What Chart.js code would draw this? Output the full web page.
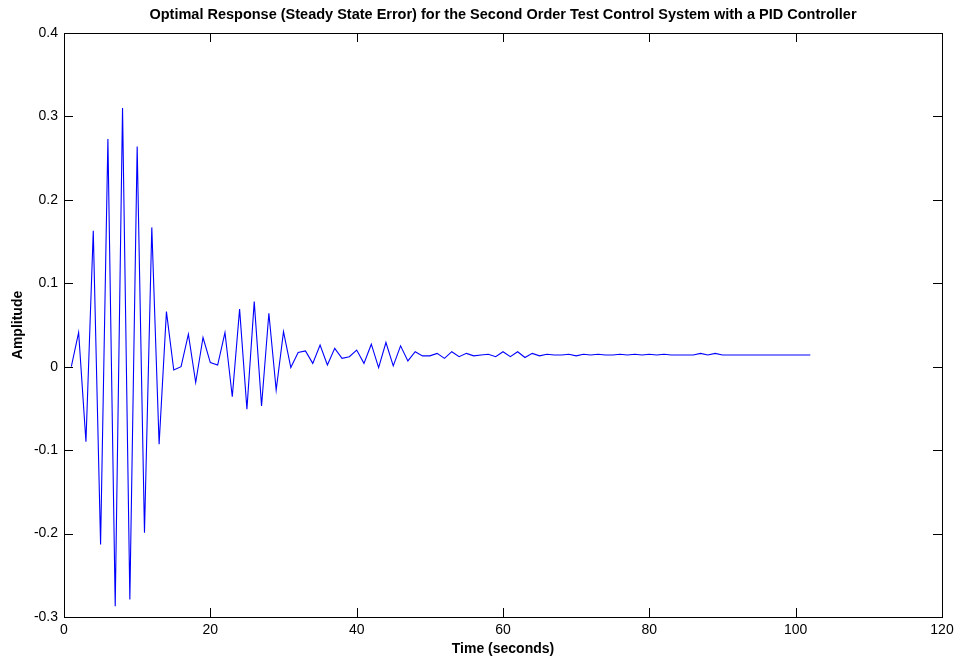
<!DOCTYPE html>
<html>
<head>
<meta charset="utf-8">
<script src="https://cdn.jsdelivr.net/npm/chart.js@4.4.0/dist/chart.umd.min.js"></script>
<style>
  html, body { margin: 0; padding: 0; background: #fff; }
  #wrap { width: 960px; height: 662px; }
</style>
</head>
<body>
<div id="wrap"><canvas id="errChart" width="960" height="662"></canvas></div>
<script>
// Zeitachse (Sekunden) und Fehlerverlauf
const timeSec = [];
for (let t = 1; t <= 102; t++) timeSec.push(t);

const errValues = [
  0.000, 0.041, -0.090, 0.163, -0.213, 0.273, -0.287, 0.310, -0.279, 0.264,
  -0.199, 0.167, -0.093, 0.066, -0.004, 0.000, 0.039, -0.019, 0.035, 0.005,
  0.002, 0.041, -0.036, 0.069, -0.051, 0.078, -0.047, 0.064, -0.028, 0.042,
  -0.001, 0.017, 0.019, 0.004, 0.026, 0.002, 0.022, 0.010, 0.012, 0.020,
  0.004, 0.027, -0.001, 0.029, 0.001, 0.025, 0.007, 0.018, 0.013, 0.013,
  0.016, 0.010, 0.018, 0.012, 0.016, 0.013, 0.014, 0.015, 0.012, 0.018,
  0.012, 0.018, 0.011, 0.016, 0.013, 0.015, 0.014, 0.014, 0.015, 0.013,
  0.015, 0.014, 0.015, 0.014, 0.014, 0.015, 0.014, 0.015, 0.014, 0.015,
  0.014, 0.015, 0.014, 0.014, 0.014, 0.014, 0.016, 0.014, 0.016, 0.014,
  0.014, 0.014, 0.014, 0.014, 0.014, 0.014, 0.014, 0.014, 0.014, 0.014,
  0.014, 0.014
];

const xTicks = [0, 20, 40, 60, 80, 100, 120];
const yTicks = [-0.3, -0.2, -0.1, 0, 0.1, 0.2, 0.3, 0.4];

const FONT = '"Liberation Sans", Arial, Helvetica, sans-serif';

// Rahmen und nach innen zeigende Ticks wie bei MATLAB
const boxTicks = {
  id: 'boxTicks',
  afterDraw(chart) {
    const { ctx, chartArea: a, scales } = chart;
    const len = 9;
    ctx.save();
    ctx.strokeStyle = '#000';
    ctx.lineWidth = 1;
    ctx.beginPath();
    xTicks.forEach(v => {
      const x = Math.round(scales.x.getPixelForValue(v)) + 0.5;
      ctx.moveTo(x, a.bottom); ctx.lineTo(x, a.bottom - len);
      ctx.moveTo(x, a.top); ctx.lineTo(x, a.top + len);
    });
    yTicks.forEach(v => {
      const y = Math.round(scales.y.getPixelForValue(v)) + 0.5;
      ctx.moveTo(a.left, y); ctx.lineTo(a.left + len, y);
      ctx.moveTo(a.right, y); ctx.lineTo(a.right - len, y);
    });
    ctx.stroke();
    ctx.strokeRect(Math.round(a.left) + 0.5, Math.round(a.top) + 0.5,
      Math.round(a.right - a.left), Math.round(a.bottom - a.top));
    ctx.restore();
  }
};

const ctx = document.getElementById('errChart').getContext('2d');
new Chart(ctx, {
  type: 'line',
  data: {
    datasets: [{
      data: timeSec.map((t, i) => ({ x: t, y: errValues[i] })),
      borderColor: '#0000ff',
      borderWidth: 1.1,
      pointRadius: 0,
      tension: 0,
      fill: false
    }]
  },
  options: {
    responsive: false,
    animation: false,
    layout: { padding: { right: 18, top: 0, left: 0, bottom: 0 } },
    plugins: {
      legend: { display: false },
      tooltip: { enabled: false },
      title: {
        display: true,
        fullSize: false,
        text: 'Optimal Response (Steady State Error) for the Second Order Test Control System with a PID Controller',
        color: '#000',
        font: { family: FONT, size: 14.5, weight: 'bold' },
        padding: { top: 6.3, bottom: 9.3 }
      }
    },
    scales: {
      x: {
        type: 'linear',
        min: 0,
        max: 120,
        afterFit: s => { s.height = 45; },
        afterBuildTicks: s => { s.ticks = xTicks.map(v => ({ value: v })); },
        grid: { display: false, drawTicks: false },
        border: { display: false },
        ticks: {
          color: '#000',
          padding: 5,
          maxRotation: 0,
          font: { family: FONT, size: 14 },
          callback: v => String(v)
        },
        title: {
          display: true,
          text: 'Time (seconds)',
          color: '#000',
          font: { family: FONT, size: 14, weight: 'bold' },
          padding: { top: 4.6, bottom: 4.6 }
        }
      },
      y: {
        type: 'linear',
        min: -0.3,
        max: 0.4,
        afterFit: s => { s.width = 64; },
        afterBuildTicks: s => { s.ticks = yTicks.map(v => ({ value: v })); },
        grid: { display: false, drawTicks: false },
        border: { display: false },
        ticks: {
          color: '#000',
          padding: 6,
          font: { family: FONT, size: 14 },
          callback: v => String(Number(v.toFixed(1)))
        },
        title: {
          display: true,
          text: 'Amplitude',
          color: '#000',
          font: { family: FONT, size: 14, weight: 'bold' },
          padding: { top: 9.6, bottom: 9.6 }
        }
      }
    }
  },
  plugins: [boxTicks]
});
</script>
</body>
</html>
